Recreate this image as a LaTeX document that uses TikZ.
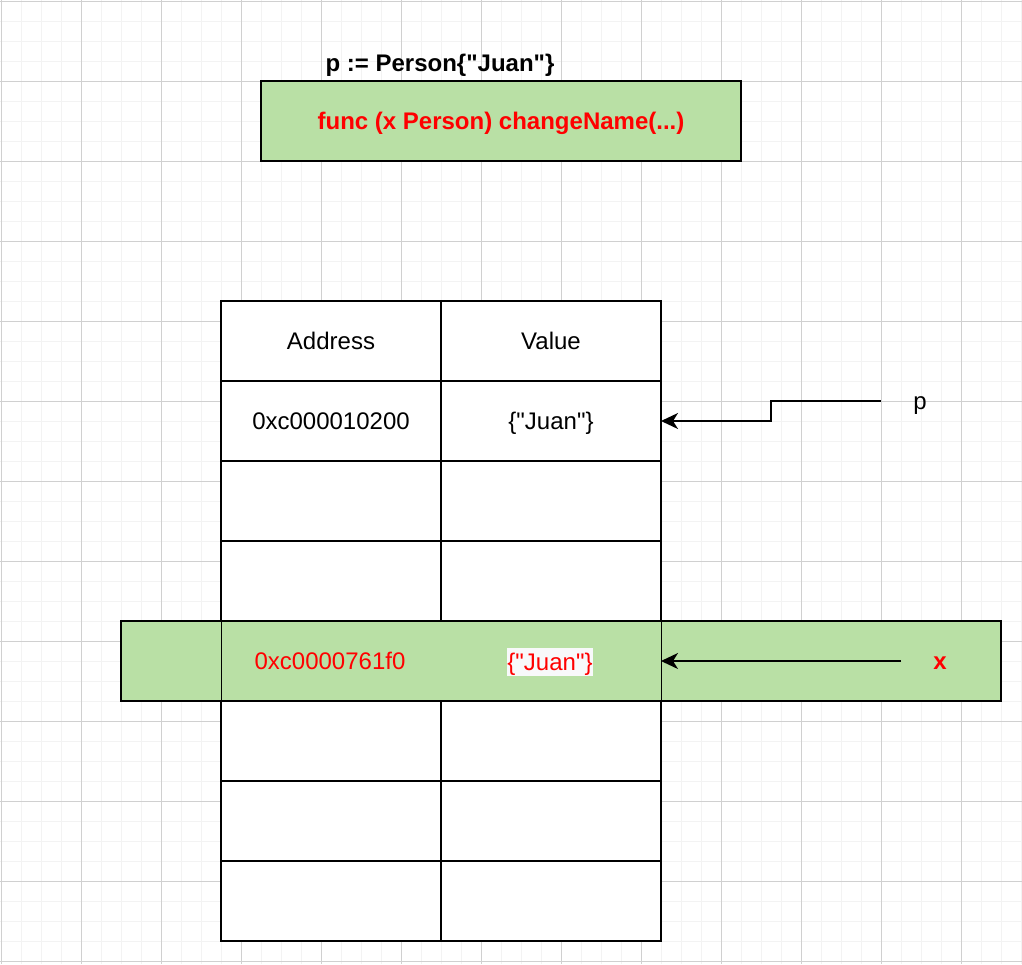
\documentclass[tikz,border=0pt]{standalone}
\usepackage{fontspec}
\setmainfont{Liberation Sans}
\usetikzlibrary{arrows.meta}
\definecolor{gfill}{HTML}{B9E0A5}
\definecolor{gmajor}{HTML}{D0D0D0}
\definecolor{gminor}{HTML}{F3F3F3}
\definecolor{tbg}{HTML}{F8F9FA}
\definecolor{rtext}{HTML}{FF0000}
\newcommand{\qq}{\textquotedbl}
\begin{document}
\begin{tikzpicture}[x=1pt,y=-1pt,
  every node/.style={inner sep=0pt, outer sep=0pt},
  big/.style={font=\fontsize{24}{28}\selectfont},
  bigb/.style={font=\fontsize{24}{28}\selectfont\bfseries},
  lbl/.style={big, text height=21.7pt, text depth=5.1pt},
  lblb/.style={bigb, text height=21.7pt, text depth=5.1pt},
  cell/.style={lbl, draw=black, line width=2pt, fill=white, minimum width=220pt, minimum height=80pt},
  band/.style={draw=black, line width=2pt, fill=gfill, minimum width=880pt, minimum height=80pt},
  conn/.style={draw=black, line width=1.8pt, -{Stealth[length=17pt,width=16pt,inset=5pt]}},
]
\useasboundingbox (0,0) rectangle (1022,964);
% grid
\foreach \i in {0,...,51} {\draw[gminor, line width=1pt] ({1+20*\i},0) -- ({1+20*\i},964);}
\foreach \i in {0,...,48} {\draw[gminor, line width=1pt] (0,{1+20*\i}) -- (1022,{1+20*\i});}
\foreach \i in {0,...,12} {\draw[gmajor, line width=1pt] ({1+80*\i},0) -- ({1+80*\i},964);}
\foreach \i in {0,...,12} {\draw[gmajor, line width=1pt] (0,{1+80*\i}) -- (1022,{1+80*\i});}

% title and function box
\node[lblb] (title) at (440,63) {p := Person\{\qq Juan\qq\}};
\node[lblb, draw=black, line width=2pt, fill=gfill, minimum width=480pt, minimum height=80pt, text=rtext] (func) at (501,121) {func (x Person) changeName(...)};

% table
\node[cell] (ah) at (331,341) {Address};
\node[cell] (vh) at (551,341) {Value};
\node[cell] (a1) at (331,421) {0xc000010200};
\node[cell] (v1) at (551,421) {\{\qq Juan\qq\}};
\node[cell] (a2) at (331,501) {};
\node[cell] (v2) at (551,501) {};
\node[cell] (a3) at (331,581) {};
\node[cell] (v3) at (551,581) {};
\node[cell] (a5) at (331,741) {};
\node[cell] (v5) at (551,741) {};
\node[cell] (a6) at (331,821) {};
\node[cell] (v6) at (551,821) {};
\node[cell] (a7) at (331,901) {};
\node[cell] (v7) at (551,901) {};

% highlighted row
\node[band] (band) at (561,661) {};
\node[draw=black, line width=1pt, minimum width=440pt, minimum height=80pt] (xcell) at (441,661) {};
\node[lbl, text=rtext] (xaddr) at (330,661) {0xc0000761f0};
\node[lbl, text=rtext, fill=tbg, inner ysep=0.6pt] (xval) at (550,662) {\{\qq Juan\qq\}};

% pointers
\coordinate (pstart) at (881,401);
\draw[conn] (pstart) -- ++(-110,0) |- (v1.east);
\node[big] (plbl) at (920,406) {p};
\coordinate (xstart) at (901,661);
\draw[conn] (xstart) -- (xcell.east);
\node[bigb, text=rtext] (xlbl) at (940,663) {x};
\end{tikzpicture}
\end{document}
